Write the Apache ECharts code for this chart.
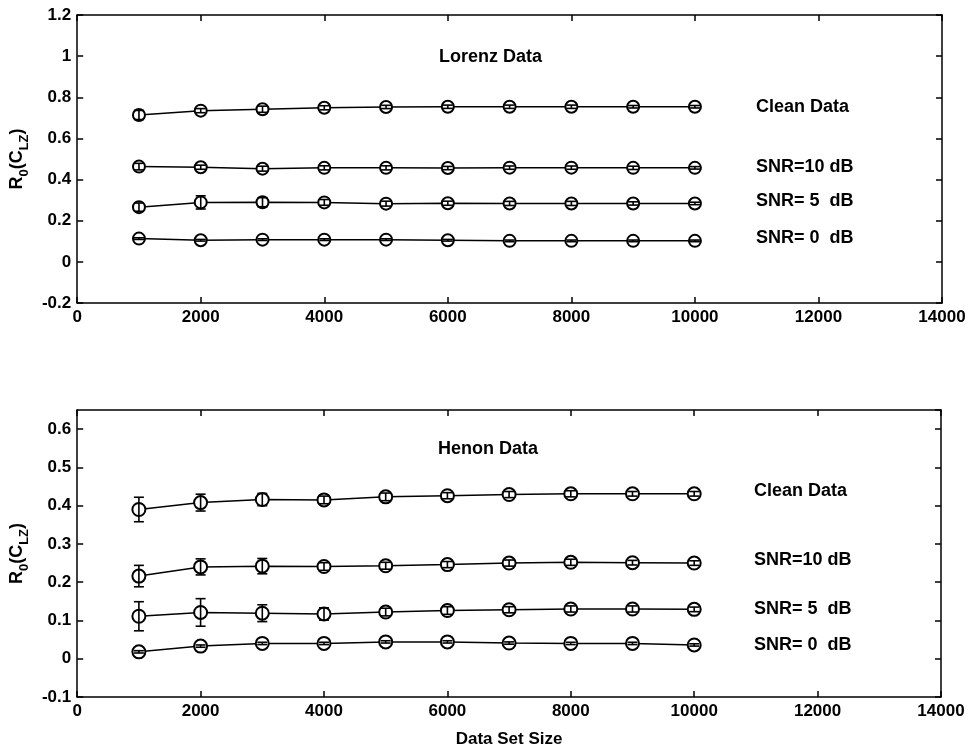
<!DOCTYPE html>
<html>
<head>
<meta charset="utf-8">
<script src="https://cdn.jsdelivr.net/npm/echarts@6/dist/echarts.min.js"></script>
<style>html,body{margin:0;padding:0;background:#fff;}#c{width:970px;height:753px;}</style>
</head>
<body>
<div id="c"></div>
<script>
const sizes = [1000, 2000, 3000, 4000, 5000, 6000, 7000, 8000, 9000, 10000];
const xTicks = { min: 0, max: 14000, interval: 2000 };

// Lorenz data (top panel)
const lorenzClean = [0.714, 0.735, 0.742, 0.749, 0.753, 0.754, 0.754, 0.754, 0.754, 0.754];
const lorenzSnr10 = [0.463, 0.460, 0.453, 0.457, 0.457, 0.456, 0.458, 0.458, 0.457, 0.457];
const lorenzSnr5  = [0.266, 0.289, 0.290, 0.289, 0.283, 0.285, 0.284, 0.284, 0.284, 0.284];
const lorenzSnr0  = [0.113, 0.105, 0.108, 0.108, 0.108, 0.105, 0.102, 0.102, 0.102, 0.102];
const lorenzCleanErr = [0.022, 0.010, 0.015, 0.010, 0.008, 0.008, 0.008, 0.008, 0.006, 0.006];
const lorenzSnr10Err = [0.016, 0.010, 0.012, 0.010, 0.010, 0.008, 0.008, 0.008, 0.008, 0.006];
const lorenzSnr5Err  = [0.020, 0.032, 0.022, 0.014, 0.012, 0.010, 0.010, 0.010, 0.008, 0.006];
const lorenzSnr0Err  = [0.004, 0.004, 0.004, 0.004, 0.004, 0.004, 0.004, 0.004, 0.004, 0.004];

// Henon data (bottom panel)
const henonClean = [0.390, 0.408, 0.416, 0.415, 0.423, 0.426, 0.429, 0.431, 0.431, 0.431];
const henonSnr10 = [0.216, 0.240, 0.242, 0.241, 0.243, 0.246, 0.250, 0.252, 0.251, 0.250];
const henonSnr5  = [0.111, 0.121, 0.119, 0.117, 0.122, 0.126, 0.128, 0.130, 0.130, 0.129];
const henonSnr0  = [0.018, 0.033, 0.040, 0.040, 0.044, 0.044, 0.041, 0.040, 0.040, 0.036];
const henonCleanErr = [0.032, 0.022, 0.016, 0.010, 0.010, 0.008, 0.008, 0.008, 0.006, 0.006];
const henonSnr10Err = [0.028, 0.021, 0.020, 0.010, 0.009, 0.008, 0.008, 0.008, 0.006, 0.006];
const henonSnr5Err  = [0.038, 0.036, 0.022, 0.016, 0.010, 0.010, 0.008, 0.008, 0.008, 0.006];
const henonSnr0Err  = [0.003, 0.003, 0.003, 0.003, 0.003, 0.003, 0.003, 0.003, 0.003, 0.003];

const seriesLabels = ['Clean Data', 'SNR=10 dB', 'SNR= 5  dB', 'SNR= 0  dB'];
const panelTitles = ['Lorenz Data', 'Henon Data'];
const yLabel = '{n|R}{s|0}{n|(C}{s|LZ}{n|)}';
const xLabel = 'Data Set Size';

const FONT = 'Liberation Sans, Arial, sans-serif';
const FS = 17;
const chart = echarts.init(document.getElementById('c'), null, { renderer: 'canvas' });

const grids = [
  { left: 73, right: 28, top: 15, height: 288 },
  { left: 72, right: 29, top: 410, height: 287 }
];

function xAx(gi, pos, labels, name) {
  return {
    type: 'value', gridIndex: gi, position: pos, min: xTicks.min, max: xTicks.max, interval: xTicks.interval,
    name: name || '', nameLocation: 'middle', nameGap: 34,
    nameTextStyle: { color: '#000', fontFamily: FONT, fontSize: FS, fontWeight: 'bold' },
    axisLine: { show: true, onZero: false, lineStyle: { color: '#000', width: 1.5 } },
    axisTick: { show: true, inside: true, length: 6, lineStyle: { color: '#000', width: 1.5 } },
    axisLabel: { show: labels, color: '#000', fontFamily: FONT, fontSize: FS, fontWeight: 'bold', margin: 6,
      formatter: v => String(v) },
    splitLine: { show: false }
  };
}
function yAx(gi, pos, labels, min, max, interval) {
  return {
    type: 'value', gridIndex: gi, position: pos, min: min, max: max, interval: interval,
    name: labels ? yLabel : '', nameLocation: 'middle', nameGap: 40, nameRotate: 90,
    nameTextStyle: {
      rich: {
        n: { fontFamily: FONT, fontSize: 18, fontWeight: 'bold', color: '#000', lineHeight: 19, verticalAlign: 'top' },
        s: { fontFamily: FONT, fontSize: 13, fontWeight: 'bold', color: '#000', lineHeight: 13, padding: [10, 0, 0, 0], verticalAlign: 'top' }
      }
    },
    axisLine: { show: true, onZero: false, lineStyle: { color: '#000', width: 1.5 } },
    axisTick: { show: true, inside: true, length: 6, lineStyle: { color: '#000', width: 1.5 } },
    axisLabel: { show: labels, showMaxLabel: interval === 0.2, color: '#000', fontFamily: FONT, fontSize: FS, fontWeight: 'bold', margin: 6 },
    splitLine: { show: false }
  };
}

function lineSeries(xi, yi, vals, size) {
  return {
    type: 'line', xAxisIndex: xi, yAxisIndex: yi,
    data: sizes.map((s, i) => [s, vals[i]]),
    symbol: 'emptyCircle', symbolSize: size, showAllSymbol: true,
    lineStyle: { color: '#000', width: 1.5 },
    itemStyle: { color: '#000', borderColor: '#000', borderWidth: 1.5 },
    z: 2, silent: true, animation: false
  };
}
function errSeries(xi, yi, vals, errs) {
  return {
    type: 'custom', xAxisIndex: xi, yAxisIndex: yi,
    data: sizes.map((s, i) => [s, vals[i] - errs[i], vals[i] + errs[i]]),
    renderItem: function (params, api) {
      const x = api.value(0);
      const p1 = api.coord([x, api.value(1)]);
      const p2 = api.coord([x, api.value(2)]);
      const hw = 5;
      const st = { stroke: '#000', lineWidth: 1.6 };
      return {
        type: 'group',
        children: [
          { type: 'line', shape: { x1: p1[0], y1: p1[1], x2: p2[0], y2: p2[1] }, style: st },
          { type: 'line', shape: { x1: p1[0] - hw, y1: p1[1], x2: p1[0] + hw, y2: p1[1] }, style: st },
          { type: 'line', shape: { x1: p2[0] - hw, y1: p2[1], x2: p2[0] + hw, y2: p2[1] }, style: st }
        ]
      };
    },
    z: 3, silent: true, animation: false
  };
}

const series = [];
[[lorenzClean, lorenzCleanErr], [lorenzSnr10, lorenzSnr10Err], [lorenzSnr5, lorenzSnr5Err], [lorenzSnr0, lorenzSnr0Err]].forEach(p => {
  series.push(lineSeries(0, 0, p[0], 12));
  series.push(errSeries(0, 0, p[0], p[1]));
});
[[henonClean, henonCleanErr], [henonSnr10, henonSnr10Err], [henonSnr5, henonSnr5Err], [henonSnr0, henonSnr0Err]].forEach(p => {
  series.push(lineSeries(2, 2, p[0], 13));
  series.push(errSeries(2, 2, p[0], p[1]));
});

function txt(x, y, s) { return { type: 'text', left: x, top: y - 10, style: { text: s, fill: '#000', font: 'bold 18px ' + FONT } }; }

const graphics = [
  txt(439, 58, panelTitles[0]),
  txt(756, 108, seriesLabels[0]),
  txt(756, 168, seriesLabels[1]),
  txt(756, 202, seriesLabels[2]),
  txt(756, 239, seriesLabels[3]),
  txt(438, 450, panelTitles[1]),
  txt(754, 492, seriesLabels[0]),
  txt(754, 561, seriesLabels[1]),
  txt(754, 610, seriesLabels[2]),
  txt(754, 646, seriesLabels[3])
];

chart.setOption({
  animation: false,
  backgroundColor: '#fff',
  grid: grids,
  xAxis: [xAx(0, 'bottom', true), xAx(0, 'top', false), xAx(1, 'bottom', true, xLabel), xAx(1, 'top', false)],
  yAxis: [yAx(0, 'left', true, -0.2, 1.2, 0.2), yAx(0, 'right', false, -0.2, 1.2, 0.2),
          yAx(1, 'left', true, -0.1, 0.65, 0.1), yAx(1, 'right', false, -0.1, 0.65, 0.1)],
  series: series,
  graphic: graphics
});
</script>
</body>
</html>
